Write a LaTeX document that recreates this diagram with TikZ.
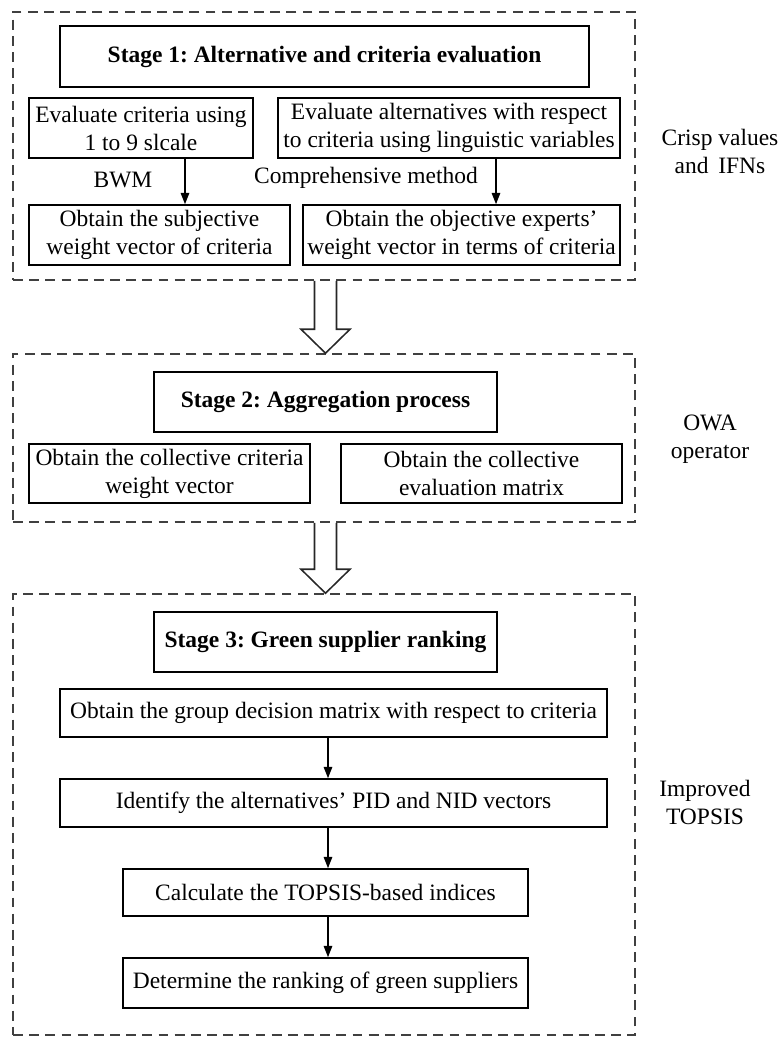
\documentclass[tikz,border=0pt]{standalone}
\usepackage{fontspec}
\setmainfont{Liberation Serif}
\usetikzlibrary{arrows.meta, calc}
\frenchspacing

\begin{document}
\begin{tikzpicture}[
  font=\fontsize{16.7}{19.9}\selectfont,
  stagebox/.style={draw=black!75, line width=1.1pt, dash pattern=on 7pt off 4.5pt, inner sep=0pt},
  titlebox/.style={draw, line width=1.6pt, inner sep=0pt, font=\fontsize{16.7}{19.9}\selectfont\bfseries},
  procbox/.style={draw, line width=1.1pt, inner sep=0pt, align=center},
  side label/.style={align=center},
  hollow/.style={draw=black!85, line width=1.1pt, line join=miter},
  >={Triangle[length=8pt, width=6pt]}
]
  \useasboundingbox (0,0) rectangle (19.475,-25.975);

  % Dashed stage frames
  \node[stagebox, minimum width=15.55cm, minimum height=6.7cm]    (s1) at (8.1, -3.65)    {};
  \node[stagebox, minimum width=15.55cm, minimum height=4.2cm]    (s2) at (8.1, -10.95)   {};
  \node[stagebox, minimum width=15.55cm, minimum height=11.025cm] (s3) at (8.1, -20.3625) {};

  % Stage 1
  \node[titlebox, minimum width=13.225cm, minimum height=1.525cm] (t1) at (8.1125, -1.4125)
    {Stage 1: Alternative and criteria evaluation};
  \node[procbox, minimum width=5.6cm, minimum height=1.5cm]   (evalcrit) at (3.525, -3.2)
    {Evaluate criteria using\\1 to 9 slcale};
  \node[procbox, minimum width=8.55cm, minimum height=1.5cm]  (evalalt)  at (11.225, -3.2)
    {Evaluate alternatives with respect\\to criteria using linguistic variables};
  \node[procbox, minimum width=6.525cm, minimum height=1.5cm] (subjw)    at (3.9875, -5.875)
    {Obtain the subjective\\weight vector of criteria};
  \node[procbox, minimum width=7.925cm, minimum height=1.5cm] (objw)     at (11.5375, -5.875)
    {Obtain the objective experts'\\weight vector in terms of criteria};
  \node (bwm)  at (3.075, -4.5)  {BWM};
  \node (comp) at (9.15, -4.45)  {Comprehensive method};
  \node[side label] (crisp) at (18.0, -3.775) {Crisp values\\and\, IFNs};

  \coordinate (xa) at (4.625, 0);
  \coordinate (xb) at (12.4, 0);
  \draw[->, line width=1pt] (evalcrit.south -| xa) -- (subjw.north -| xa);
  \draw[->, line width=1pt] (evalalt.south -| xb) -- (objw.north -| xb);

  % Stage 2
  \node[titlebox, line width=1.1pt, minimum width=8.575cm, minimum height=1.5cm] (t2) at (8.1375, -10.05)
    {Stage 2: Aggregation process};
  \node[procbox, minimum width=7.025cm, minimum height=1.475cm] (collw)   at (4.2375, -11.8375)
    {Obtain the collective criteria\\weight vector};
  \node[procbox, minimum width=7.025cm, minimum height=1.475cm] (collmat) at (12.0375, -11.8375)
    {Obtain the collective\\evaluation matrix};
  \node[side label] (owa) at (17.75, -10.975) {OWA\\operator};

  % Stage 3
  \node[titlebox, line width=1.1pt, minimum width=8.575cm, minimum height=1.5cm] (t3) at (8.1375, -16.05)
    {Stage 3: Green supplier ranking};
  \node[procbox, minimum width=13.675cm, minimum height=1.2cm]  (groupmat) at (8.3375, -17.825)
    {Obtain the group decision matrix with respect to criteria};
  \node[procbox, minimum width=13.675cm, minimum height=1.2cm]  (pidnid)   at (8.3375, -20.075)
    {Identify the alternatives' PID and NID vectors};
  \node[procbox, minimum width=10.125cm, minimum height=1.175cm] (indices) at (8.1375, -22.3125)
    {Calculate the TOPSIS-based indices};
  \node[procbox, minimum width=10.125cm, minimum height=1.25cm]  (ranking) at (8.1375, -24.575)
    {Determine the ranking of green suppliers};
  \node[side label] (topsis) at (17.625, -20.05) {Improved\\TOPSIS};

  \coordinate (xc) at (8.2, 0);
  \draw[->, line width=1pt] (groupmat.south -| xc) -- (pidnid.north -| xc);
  \draw[->, line width=1pt] (pidnid.south -| xc)   -- (indices.north -| xc);
  \draw[->, line width=1pt] (indices.south -| xc)  -- (ranking.north -| xc);

  % Hollow arrows between the stages
  \coordinate (xh) at (8.1375, 0);
  \foreach \from/\to in {s1/s2, s2/s3} {
    \draw[hollow] ($(\from.south -| xh)+(-0.275,0)$) -- ($(\to.north -| xh)+(-0.275,0.6)$)
      -- ++(-0.3375,0) -- (\to.north -| xh) -- ($(\to.north -| xh)+(0.6125,0.6)$)
      -- ++(-0.3375,0) -- ($(\from.south -| xh)+(0.275,0)$);
  }
\end{tikzpicture}
\end{document}
